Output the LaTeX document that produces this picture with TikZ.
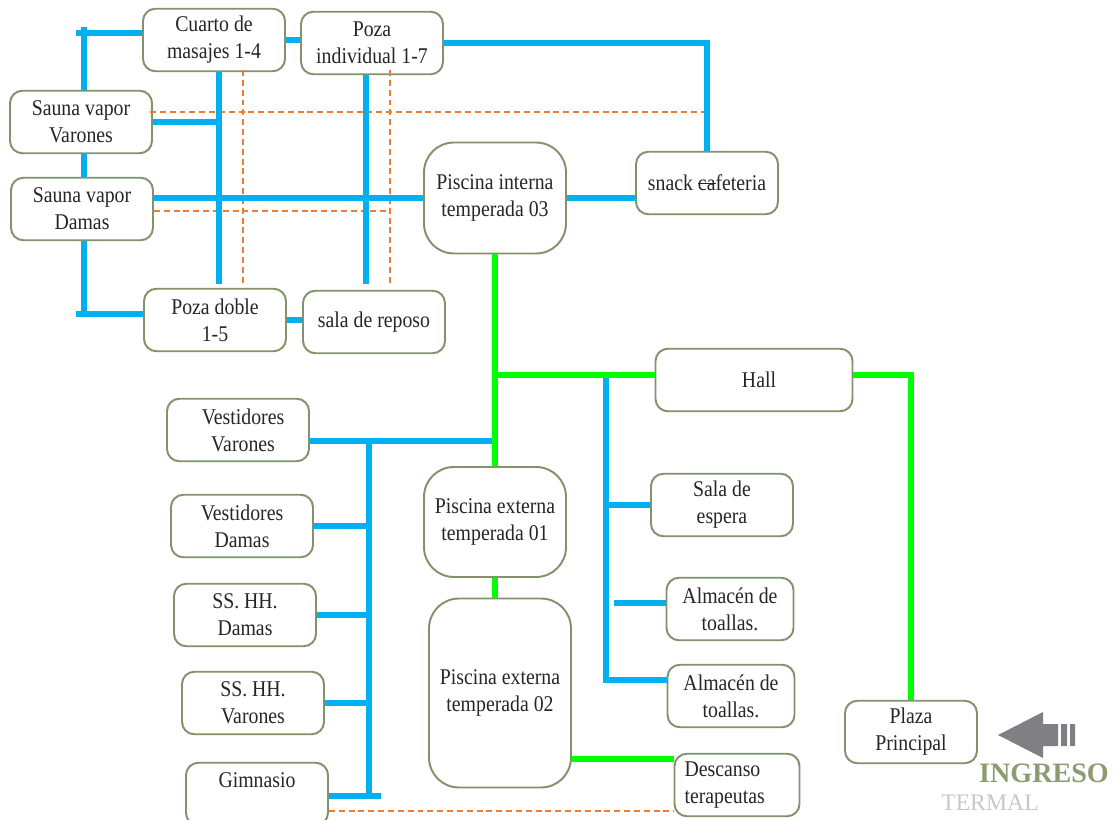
\documentclass[tikz,border=0pt]{standalone}
\usepackage{fontspec}
\setmainfont{Liberation Serif}[FakeStretch=0.88]
\newfontfamily\plainserif{Liberation Serif}
\newcommand\strk[1]{\setbox0\hbox{#1}\rlap{\rule[0.3em]{\wd0}{0.6pt}}\box0}
\definecolor{boxcol}{RGB}{130,146,106}
\definecolor{pipe}{RGB}{0,176,240}
\definecolor{walk}{RGB}{0,255,0}
\definecolor{dashcol}{RGB}{237,125,49}
\definecolor{txt}{RGB}{38,38,38}
\definecolor{arrowgray}{RGB}{128,128,132}
\definecolor{ingcol}{RGB}{140,156,112}
\definecolor{termcol}{RGB}{200,200,200}
\begin{document}
\begin{tikzpicture}[x=0.02cm, y=-0.02cm, font=\fontsize{12.8}{15.4}\selectfont, text=txt,
  room/.style={draw=boxcol, line width=1.1pt, rounded corners=7pt, fill=white, align=center,
    minimum width=2.84cm, minimum height=1.25cm, inner sep=1pt},
  pool/.style={room, rounded corners=17pt},
  bl/.style={pipe, line width=3.2pt},
  gl/.style={walk, line width=3.2pt},
  dl/.style={dashcol, line width=0.9pt, dash pattern=on 3.4pt off 2.2pt}]
\useasboundingbox (0,0) rectangle (1119,820);
\clip (0,0) rectangle (1119,820);
\node[room] (cuarto) at (214,40) {Cuarto de\\masajes 1-4};
\node[room] (pozai) at (372,43) {Poza\\individual 1-7};
\node[room] (saunav) at (81,122) {Sauna vapor\\Varones};
\node[room] (saunad) at (82,209) {Sauna vapor\\Damas};
\node[room] (pozad) at (215,320) {Poza doble\\1-5};
\node[room] (reposo) at (374,322) {sala de reposo};
\node[pool, minimum height=2.22cm] (pint) at (495,198) {Piscina interna\\temperada 03};
\node[room] (snack) at (707,183) {snack \strk{ca}feteria};
\node[room, minimum width=3.94cm] (hall) at (754,380) {\hspace{0.2cm}Hall};
\node[room] (vestv) at (238,430) {\hspace{0.2cm}Vestidores\\\hspace{0.2cm}Varones};
\node[room] (vestd) at (242,526) {Vestidores\\Damas};
\node[room] (ssd) at (245,615) {SS. HH.\\Damas};
\node[room] (ssv) at (253,703) {SS. HH.\\Varones};
\node[room] (gim) at (257,794) {Gimnasio\\~};
\node[pool, minimum height=2.2cm] (pext1) at (495,522) {Piscina externa\\temperada 01};
\node[pool, minimum height=3.78cm] (pext2) at (500,693) {Piscina externa\\temperada 02};
\node[room] (espera) at (722,505) {Sala de\\espera};
\node[room, minimum width=2.54cm] (alm1) at (730,609) {Almacén de\\toallas.};
\node[room, minimum width=2.54cm] (alm2) at (731,696) {Almacén de\\toallas.};
\node[room, minimum width=2.5cm, text width=2.1cm, align=left] (desc) at (737,785) {Descanso\\terapeutas};
\node[room, minimum width=2.64cm] (plaza) at (911,732) {Plaza\\Principal};
\coordinate (tlA) at (76,33);
\coordinate (tlB) at (84,27);
\coordinate (blA) at (76,314);
\coordinate (vA) at (219,0);
\coordinate (vB) at (366,0);
\coordinate (jv) at (369,441);
\coordinate (jg) at (381,796);
\coordinate (jh) at (494,375);
\coordinate (jb) at (606,376);
\coordinate (jb2) at (606,680);
\coordinate (ja) at (614,603);
\coordinate (jd) at (572,759);
\coordinate (d1) at (150,112);
\coordinate (d2) at (243,70);
\coordinate (d3) at (390,70);
\coordinate (d4) at (0,284);
\coordinate (d5) at (0,211);
\coordinate (d6) at (0,811);
\draw[dl] (d1) -- (d1 -| snack.north);
\draw[dl] (d2) -- (d2 |- d4);
\draw[dl] (d3) -- (d3 |- d4);
\draw[dl] (saunad.east |- d5) -- (d3 |- d5);
\draw[dl] (gim.east |- d6) -- (desc.west |- d6);
\draw[bl] (tlA) -- (cuarto.west |- tlA);
\draw[bl] (tlB) -- (saunav.north -| tlB);
\draw[bl] (saunav.south -| tlB) -- (saunad.north -| tlB);
\draw[bl] (saunad.south -| tlB) -- (tlB |- blA);
\draw[bl] (blA) -- (pozad.west |- blA);
\draw[bl] (cuarto.east) -- (pozai.west |- cuarto.east);
\draw[bl] (cuarto.south -| vA) -- (vA |- d4);
\draw[bl] (saunav.east) -- (saunav.east -| vA);
\draw[bl] (pint.west -| saunad.east) -- (pint.west);
\draw[bl] (pozai.south -| vB) -- (vB |- d4);
\draw[bl] (pozad.east) -- (reposo.west |- pozad.east);
\draw[bl] (pozai.east) -| (snack.north);
\draw[bl] (pint.east) -- (snack.west |- pint.east);
\draw[bl] (vestv.east |- jv) -- (jv -| pext1.north);
\draw[bl] (jv) -- (jv |- jg);
\foreach \n in {vestd, ssd, ssv} \draw[bl] (\n.east) -- (\n.east -| jv);
\draw[bl] (gim.east |- jg) -- (jg);
\draw[bl] (jb) -- (jb2) -- (alm2.west |- jb2);
\draw[bl] (jb |- espera.west) -- (espera.west);
\draw[bl] (ja) -- (alm1.west |- ja);
\draw[gl] (pint.south) -- (pext1.north);
\draw[gl] (jh) -- (hall.west |- jh);
\draw[gl] (pext1.south) -- (pext1.south |- pext2.north);
\draw[gl] (jd) -- (desc.west |- jd);
\draw[gl] (hall.east |- jh) -| (plaza.north);
\fill[arrowgray] (998,735) -- (1043,712) -- (1043,724) -- (1058,724) -- (1058,746) -- (1043,746) -- (1043,758) -- cycle;
\fill[arrowgray] (1061,724) rectangle (1067,746) (1070,724) rectangle (1075,746);
\node[font=\plainserif\fontsize{16}{18}\selectfont\bfseries, text=ingcol] (ingreso) at (1044,773) {INGRESO};
\node[font=\plainserif\fontsize{13.5}{15}\selectfont, text=termcol] (termal) at (990,803) {TERMAL};
\end{tikzpicture}
\end{document}
